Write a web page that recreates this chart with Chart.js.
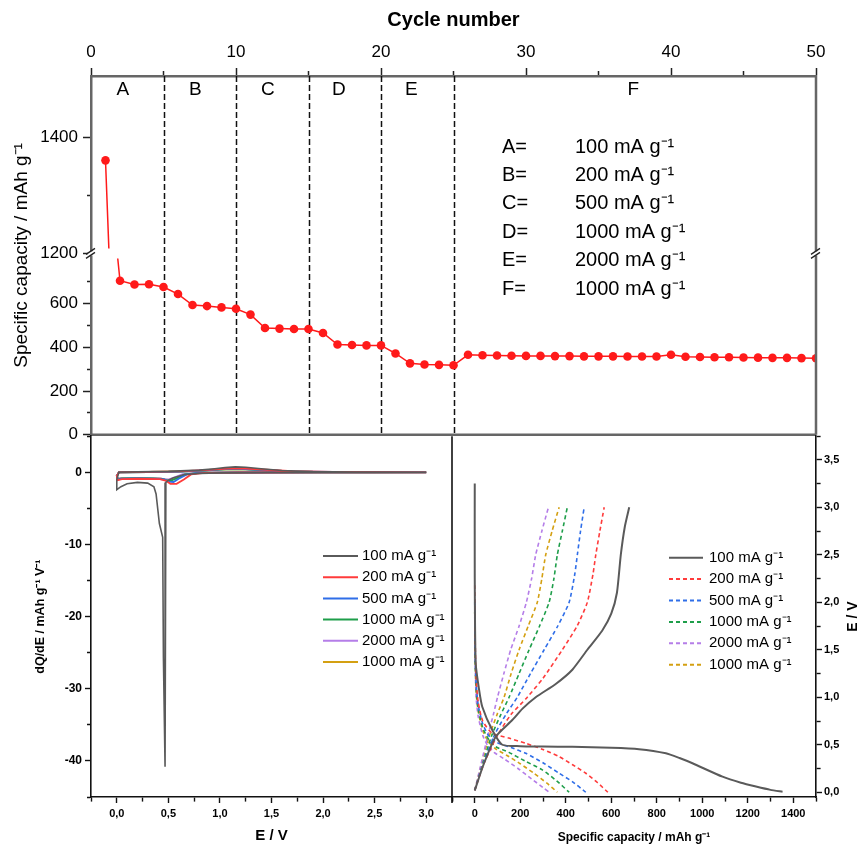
<!DOCTYPE html>
<html>
<head>
<meta charset="utf-8">
<title>Rate capability</title>
<script src="https://cdn.jsdelivr.net/npm/chart.js@4.4.1/dist/chart.umd.min.js"></script>
<style>
  body { margin: 0; background: #fff; }
  #wrap { position: relative; width: 860px; height: 845px; }
  canvas { position: absolute; }
</style>
</head>
<body>
<div id="wrap">
  <canvas id="capChart" width="860" height="450" style="left:0;top:0"></canvas>
  <canvas id="dqdeChart" width="462" height="419" style="left:0;top:426px"></canvas>
  <canvas id="profChart" width="418" height="419" style="left:442px;top:426px"></canvas>
</div>
<script>
// ---------- data ----------
const cycles = [1, 2, 3, 4, 5, 6, 7, 8, 9, 10, 11, 12, 13, 14, 15, 16, 17, 18, 19, 20, 21, 22, 23, 24, 25,
  26, 27, 28, 29, 30, 31, 32, 33, 34, 35, 36, 37, 38, 39, 40, 41, 42, 43, 44, 45, 46, 47, 48, 49, 50];
const capacity = [1360, 705, 688, 689, 676, 644, 594, 589, 583, 577, 550, 489, 486, 484, 484, 466, 413, 411, 409, 409,
  372, 327, 322, 320, 318, 366, 364, 363, 362, 361, 361, 360, 360, 359, 359, 359, 358, 358, 358, 366,
  357, 356, 355, 355, 354, 353, 352, 352, 351, 350];

const stageEnds = [5, 10, 15, 20, 25];
const stageNames = ['A', 'B', 'C', 'D', 'E', 'F'];
const stageCenters = [2.2, 7.2, 12.2, 17.1, 22.1, 37.4];
const stageRates = ['100 mA g⁻¹', '200 mA g⁻¹', '500 mA g⁻¹', '1000 mA g⁻¹', '2000 mA g⁻¹', '1000 mA g⁻¹'];

const lowTicks = [0, 100, 200, 300, 400, 500, 600, 700];
const highTicks = [1200, 1300, 1400];
const cycleTicks = [0, 5, 10, 15, 20, 25, 30, 35, 40, 45, 50];

const seriesLabels = ['100 mA g⁻¹', '200 mA g⁻¹', '500 mA g⁻¹', '1000 mA g⁻¹', '2000 mA g⁻¹', '1000 mA g⁻¹'];
const seriesColors = ['#5a5a5a', '#ff3b3b', '#2f6ee8', '#1e9e4a', '#b57ee8', '#d4a012'];

// dQ/dE vs E  ([E, dQ/dE])
const dqde100 = [[3.0, 0], [2.5, -0.01], [2.0, -0.02], [1.5, -0.04], [1.0, -0.08], [0.8, -0.15], [0.65, -0.35],
  [0.55, -0.75], [0.5, -1.1], [0.476, -1.4], [0.468, -40.8], [0.452, -25.6], [0.445, -9.0], [0.413, -7.1],
  [0.381, -3.0], [0.36, -2.0], [0.3, -1.5], [0.2, -1.4], [0.1, -1.6], [0.04, -2.0], [0.0, -2.4], [0.0, -1.0],
  [0.02, 0], [0.2, 0.05], [0.5, 0.12], [0.8, 0.3], [0.95, 0.5], [1.05, 0.65], [1.15, 0.75], [1.25, 0.7],
  [1.4, 0.5], [1.6, 0.25], [1.9, 0.1], [2.3, 0.04], [3.0, 0]];
const dqde200 = [[3.0, 0], [2.0, -0.01], [1.2, -0.03], [0.85, -0.08], [0.72, -0.3], [0.65, -1.0], [0.58, -1.6],
  [0.52, -1.6], [0.48, -1.2], [0.42, -0.95], [0.2, -0.9], [0.05, -0.95], [0.01, -1.1], [0.0, -0.5], [0.02, 0],
  [0.3, 0.05], [0.6, 0.12], [0.85, 0.3], [1.0, 0.45], [1.12, 0.55], [1.25, 0.5], [1.45, 0.35], [1.7, 0.15],
  [2.1, 0.05], [3.0, 0]];
const dqde500 = [[3.0, 0], [2.0, -0.01], [1.2, -0.03], [0.8, -0.08], [0.68, -0.3], [0.6, -0.9], [0.55, -1.35],
  [0.5, -1.3], [0.46, -1.0], [0.4, -0.9], [0.2, -0.85], [0.05, -0.9], [0.01, -1.0], [0.0, -0.5], [0.02, 0],
  [0.3, 0.04], [0.6, 0.1], [0.85, 0.25], [1.0, 0.4], [1.12, 0.5], [1.25, 0.45], [1.45, 0.3], [1.7, 0.12],
  [2.1, 0.04], [3.0, 0]];
const dqde1000 = [[3.0, 0], [2.0, -0.01], [1.2, -0.03], [0.8, -0.07], [0.66, -0.3], [0.58, -0.85], [0.52, -1.2],
  [0.48, -1.1], [0.44, -0.9], [0.35, -0.85], [0.2, -0.8], [0.05, -0.85], [0.01, -0.95], [0.0, -0.5], [0.02, 0],
  [0.3, 0.04], [0.6, 0.1], [0.85, 0.22], [1.0, 0.36], [1.12, 0.45], [1.25, 0.42], [1.45, 0.28], [1.7, 0.1],
  [2.1, 0.03], [3.0, 0]];
const dqde2000 = [[3.0, 0], [2.0, -0.01], [1.2, -0.03], [0.8, -0.06], [0.64, -0.25], [0.56, -0.7], [0.5, -1.0],
  [0.46, -0.95], [0.42, -0.85], [0.3, -0.8], [0.15, -0.78], [0.04, -0.8], [0.01, -0.9], [0.0, -0.5], [0.02, 0],
  [0.3, 0.04], [0.6, 0.1], [0.85, 0.25], [1.0, 0.4], [1.1, 0.5], [1.22, 0.45], [1.45, 0.28], [1.7, 0.1],
  [2.1, 0.03], [3.0, 0]];
const dqde1000b = [[3.0, 0], [2.0, -0.01], [1.2, -0.03], [0.8, -0.07], [0.65, -0.28], [0.57, -0.8], [0.51, -1.1],
  [0.47, -1.0], [0.43, -0.88], [0.3, -0.82], [0.15, -0.8], [0.04, -0.82], [0.01, -0.92], [0.0, -0.5], [0.02, 0],
  [0.3, 0.04], [0.6, 0.1], [0.85, 0.22], [1.0, 0.38], [1.12, 0.45], [1.25, 0.42], [1.45, 0.27], [1.7, 0.1],
  [2.1, 0.03], [3.0, 0]];

// discharge / charge profiles  ([capacity, E])
const dis100 = [[0, 3.25], [0, 2.3], [4, 1.36], [19, 1.08], [33, 0.9], [77, 0.655], [121, 0.5], [200, 0.485],
  [300, 0.482], [429, 0.478], [600, 0.468], [722, 0.453], [840, 0.41], [900, 0.36], [957, 0.305],
  [1089, 0.164], [1170, 0.1], [1236, 0.06], [1300, 0.025], [1353, 0.006]];
const chg100 = [[0, 0.02], [40, 0.3], [92, 0.585], [165, 0.76], [210, 0.88], [268, 1.0], [356, 1.14], [429, 1.29],
  [495, 1.5], [560, 1.7], [600, 1.88], [625, 2.1], [642, 2.5], [660, 2.8], [679, 3.0]];
const dis200 = [[0, 2.18], [2, 1.6], [6, 1.2], [15, 0.95], [35, 0.75], [77, 0.62], [150, 0.57], [224, 0.515],
  [300, 0.45], [371, 0.375], [430, 0.29], [488, 0.2], [540, 0.1], [585, 0.0]];
const chg200 = [[0, 0.02], [40, 0.3], [100, 0.6], [160, 0.82], [231, 1.0], [300, 1.2], [385, 1.5], [450, 1.75],
  [495, 2.0], [520, 2.3], [532, 2.5], [550, 2.75], [569, 3.0]];
const dis500 = [[0, 2.0], [2, 1.5], [6, 1.15], [15, 0.92], [35, 0.72], [60, 0.6], [92, 0.53], [160, 0.47],
  [224, 0.41], [300, 0.31], [371, 0.2], [430, 0.11], [488, 0.0]];
const chg500 = [[0, 0.02], [40, 0.32], [90, 0.62], [140, 0.83], [187, 1.0], [245, 1.25], [305, 1.5], [365, 1.75],
  [415, 2.0], [440, 2.3], [451, 2.5], [465, 2.75], [481, 3.0]];
const dis1000 = [[0, 1.9], [2, 1.4], [6, 1.1], [15, 0.88], [35, 0.68], [60, 0.56], [92, 0.48], [150, 0.42],
  [220, 0.33], [297, 0.235], [360, 0.12], [415, 0.0]];
const chg1000 = [[0, 0.02], [35, 0.3], [75, 0.6], [115, 0.82], [151, 1.0], [195, 1.25], [239, 1.5], [285, 1.75],
  [327, 2.0], [348, 2.25], [363, 2.5], [385, 2.75], [407, 3.0]];
const dis2000 = [[0, 1.85], [2, 1.35], [6, 1.0], [15, 0.8], [35, 0.6], [55, 0.5], [85, 0.42], [130, 0.35],
  [190, 0.25], [250, 0.14], [300, 0.05], [327, 0.0]];
const chg2000 = [[0, 0.02], [28, 0.3], [58, 0.6], [82, 0.82], [100, 1.0], [128, 1.25], [158, 1.5], [195, 1.75],
  [227, 2.0], [250, 2.25], [268, 2.5], [295, 2.75], [324, 3.0]];
const dis1000b = [[0, 1.9], [2, 1.4], [6, 1.05], [15, 0.85], [35, 0.65], [60, 0.53], [90, 0.46], [140, 0.39],
  [200, 0.3], [260, 0.2], [320, 0.09], [363, 0.0]];
const chg1000b = [[0, 0.02], [30, 0.3], [65, 0.6], [100, 0.83], [129, 1.0], [160, 1.25], [195, 1.5], [235, 1.75],
  [275, 2.0], [295, 2.25], [312, 2.5], [340, 2.75], [371, 3.0]];

// ---------- helpers ----------
const FONT = "'Liberation Sans', Arial, sans-serif";
Chart.defaults.font.family = FONT;
Chart.defaults.color = '#000';

const toXY = arr => arr.map(p => ({ x: p[0], y: p[1] }));
const withGap = (a, b) => toXY(a).concat([{ x: 0, y: null }], toXY(b));

// minor ticks drawn shorter by dashing the tick stroke
function tickDash(isMajor, tl, m, outerFirst) {
  return ctx => {
    if (!ctx.tick || isMajor(ctx.tick.value)) return [];
    return outerFirst ? [0, tl - m, m, 60] : [m, 60];
  };
}
const mult = step => v => Math.abs(v / step - Math.round(v / step)) < 1e-6;

// ---------- top chart: capacity vs cycle (broken axis) ----------
const capPts = cycles.map((c, i) => ({ x: c, y: capacity[i] }));

const capDecor = {
  id: 'capDecor',
  beforeDatasetsDraw(chart) {
    const { ctx, chartArea: a, scales } = chart;
    ctx.save();
    ctx.strokeStyle = '#111';
    ctx.lineWidth = 1.5;
    ctx.setLineDash([6, 3]);
    stageEnds.forEach(c => {
      const x = Math.round(scales.x.getPixelForValue(c)) + 0.5;
      ctx.beginPath();
      ctx.moveTo(x, a.top);
      ctx.lineTo(x, a.bottom);
      ctx.stroke();
    });
    ctx.restore();
  },
  afterDraw(chart) {
    const { ctx, chartArea: a, scales } = chart;
    ctx.save();
    // right and bottom frame
    ctx.strokeStyle = '#666';
    ctx.lineWidth = 2.5;
    ctx.beginPath();
    ctx.moveTo(a.left, a.bottom);
    ctx.lineTo(a.right, a.bottom);
    ctx.moveTo(a.right, a.top - 1);
    ctx.lineTo(a.right, a.bottom);
    ctx.stroke();
    // axis break marks
    const yb = scales.yHigh.bottom;
    [a.left, a.right].forEach(x => {
      ctx.fillStyle = '#fff';
      ctx.fillRect(x - 3, yb - 2, 6, 4);
      ctx.strokeStyle = '#222';
      ctx.lineWidth = 1.3;
      ctx.beginPath();
      ctx.moveTo(x - 5, yb + 1); ctx.lineTo(x + 4, yb - 5);
      ctx.moveTo(x - 5, yb + 5); ctx.lineTo(x + 4, yb - 1);
      ctx.stroke();
    });
    // stage letters
    ctx.fillStyle = '#000';
    ctx.font = '19px ' + FONT;
    ctx.textAlign = 'center';
    ctx.textBaseline = 'middle';
    stageNames.forEach((s, i) => ctx.fillText(s, scales.x.getPixelForValue(stageCenters[i]), 90));
    // current density table
    ctx.textAlign = 'left';
    ctx.font = '20px ' + FONT;
    stageNames.forEach((s, i) => {
      const y = 147 + i * 28.4;
      ctx.fillText(s + '=', 502, y);
      ctx.fillText(stageRates[i], 575, y);
    });
    // y title
    ctx.font = '19px ' + FONT;
    ctx.translate(22, (a.top + a.bottom) / 2);
    ctx.rotate(-Math.PI / 2);
    ctx.textAlign = 'center';
    ctx.fillText('Specific capacity / mAh g⁻¹', 0, 0);
    ctx.restore();
  }
};

const tickFontTop = { size: 17, family: FONT };
const capSet = {
  borderColor: '#ff1a1a', backgroundColor: '#ff1a1a', borderWidth: 1.5,
  pointRadius: 4.3, pointBorderWidth: 0, pointHoverRadius: 4.3
};

new Chart(document.getElementById('capChart'), {
  type: 'line',
  data: {
    datasets: [
      Object.assign({ data: capPts, xAxisID: 'x', yAxisID: 'yLow', clip: { left: 8, right: 1, top: -5, bottom: 8 } }, capSet),
      Object.assign({ data: capPts, xAxisID: 'x', yAxisID: 'yHigh', clip: { left: 8, right: 1, top: 8, bottom: -5 } }, capSet)
    ]
  },
  options: {
    responsive: false,
    animation: false,
    devicePixelRatio: 1,
    layout: { padding: { left: 0, top: 0, right: 44, bottom: 14 } },
    plugins: { legend: { display: false }, tooltip: { enabled: false } },
    scales: {
      x: {
        type: 'linear', position: 'top', min: 0, max: 50,
        afterBuildTicks: s => { s.ticks = cycleTicks.map(v => ({ value: v })); },
        afterFit: s => { s.height = 76; },
        ticks: { callback: v => (v % 10 === 0 ? v : ''), font: tickFontTop, padding: 5, maxRotation: 0, autoSkip: false },
        grid: { drawOnChartArea: false, tickLength: 8, tickWidth: 1.5, tickColor: '#222',
                tickBorderDash: tickDash(mult(10), 8, 5, true) },
        border: { color: '#666', width: 2.5 },
        title: { display: true, text: 'Cycle number', font: { size: 20, weight: 'bold', family: FONT }, padding: { top: 8, bottom: 0 } }
      },
      yLow: {
        type: 'linear', position: 'left', stack: 'cap', stackWeight: 182, min: 0, max: 830,
        afterBuildTicks: s => { s.ticks = lowTicks.map(v => ({ value: v })); },
        afterFit: s => { s.width = 91; },
        ticks: { callback: v => (v % 200 === 0 ? v : ''), font: tickFontTop, padding: 5, autoSkip: false },
        grid: { drawOnChartArea: false, tickLength: 8, tickWidth: 1.5, tickColor: '#222',
                tickBorderDash: tickDash(mult(200), 8, 4, true) },
        border: { color: '#666', width: 2.5 }
      },
      yHigh: {
        type: 'linear', position: 'left', stack: 'cap', stackWeight: 178, min: 1200, max: 1505,
        afterBuildTicks: s => { s.ticks = highTicks.map(v => ({ value: v })); },
        afterFit: s => { s.width = 91; },
        ticks: { callback: v => (v % 200 === 0 ? v : ''), font: tickFontTop, padding: 5, autoSkip: false },
        grid: { drawOnChartArea: false, tickLength: 8, tickWidth: 1.5, tickColor: '#222',
                tickBorderDash: tickDash(mult(200), 8, 4, true) },
        border: { color: '#666', width: 2.5 }
      }
    }
  },
  plugins: [capDecor]
});

// ---------- shared legend for the lower panels ----------
const miniLegend = {
  id: 'miniLegend',
  afterDraw(chart, args, opts) {
    const ctx = chart.ctx;
    ctx.save();
    ctx.font = opts.font;
    ctx.textBaseline = 'middle';
    ctx.textAlign = 'left';
    chart.data.datasets.forEach((ds, i) => {
      const y = opts.y + i * opts.dy;
      ctx.strokeStyle = ds.borderColor;
      ctx.lineWidth = 2;
      ctx.setLineDash(ds.borderDash || []);
      ctx.beginPath();
      ctx.moveTo(opts.x0, y);
      ctx.lineTo(opts.x1, y);
      ctx.stroke();
      ctx.setLineDash([]);
      ctx.fillStyle = '#000';
      ctx.fillText(ds.label, opts.tx, y);
    });
    ctx.restore();
  }
};

const smallTick = { size: 11, weight: 'bold', family: FONT };
const axisLine = { color: '#111', width: 1.6 };

// ---------- bottom left: dQ/dE ----------
const dqdeSets = [dqde100, dqde200, dqde500, dqde1000, dqde2000, dqde1000b];
const dividerPlugin = {
  id: 'divider',
  afterDraw(chart) {
    const { ctx, chartArea: a } = chart;
    ctx.save();
    ctx.strokeStyle = '#111';
    ctx.lineWidth = 1.6;
    ctx.beginPath();
    ctx.moveTo(a.right, a.top);
    ctx.lineTo(a.right, a.bottom + 6);
    ctx.stroke();
    ctx.restore();
  }
};

new Chart(document.getElementById('dqdeChart'), {
  type: 'line',
  data: {
    datasets: dqdeSets.map((d, i) => ({
      label: seriesLabels[i], data: toXY(d), borderColor: seriesColors[i],
      borderWidth: i === 0 ? 1.6 : 1.8, pointRadius: 0, tension: 0
    }))
  },
  options: {
    responsive: false,
    animation: false,
    devicePixelRatio: 1,
    layout: { padding: { left: 0, top: 10, right: 10, bottom: 0 } },
    plugins: {
      legend: { display: false }, tooltip: { enabled: false },
      miniLegend: { x0: 323, x1: 358, tx: 362, y: 130, dy: 21.2, font: '15px ' + FONT }
    },
    scales: {
      x: {
        type: 'linear', min: -0.25, max: 3.25,
        afterBuildTicks: s => { s.ticks = [-0.25, 0, 0.25, 0.5, 0.75, 1, 1.25, 1.5, 1.75, 2, 2.25, 2.5, 2.75, 3, 3.25].map(v => ({ value: v })); },
        afterFit: s => { s.height = 48; },
        ticks: { callback: v => (mult(0.5)(v) && v >= 0 ? v.toFixed(1).replace('.', ',') : ''), font: smallTick, padding: 4, maxRotation: 0, autoSkip: false },
        grid: { drawOnChartArea: false, tickLength: 6, tickWidth: 1.4, tickColor: '#111',
                tickBorderDash: tickDash(mult(0.5), 6, 4, false) },
        border: axisLine,
        title: { display: true, text: 'E / V', font: { size: 15, weight: 'bold', family: FONT }, padding: { top: 0, bottom: 0 } }
      },
      y: {
        type: 'linear', min: -45, max: 5,
        afterBuildTicks: s => { s.ticks = [-45, -40, -35, -30, -25, -20, -15, -10, -5, 0, 5].map(v => ({ value: v })); },
        afterFit: s => { s.width = 91; },
        ticks: { callback: v => (v % 10 === 0 ? v : ''), font: { size: 12, weight: 'bold', family: FONT }, padding: 3, autoSkip: false },
        grid: { drawOnChartArea: false, tickLength: 6, tickWidth: 1.4, tickColor: '#111',
                tickBorderDash: tickDash(mult(10), 6, 4, true) },
        border: axisLine,
        title: { display: true, text: 'dQ/dE / mAh g⁻¹ V⁻¹', font: { size: 12.5, weight: 'bold', family: FONT }, padding: { top: 33, bottom: 0 } }
      }
    }
  },
  plugins: [miniLegend, dividerPlugin]
});

// ---------- bottom right: potential profiles ----------
const profDis = [dis100, dis200, dis500, dis1000, dis2000, dis1000b];
const profChg = [chg100, chg200, chg500, chg1000, chg2000, chg1000b];

const profTitle = {
  id: 'profTitle',
  afterDraw(chart) {
    const { ctx, chartArea: a } = chart;
    ctx.save();
    ctx.fillStyle = '#000';
    ctx.font = 'bold 14px ' + FONT;
    ctx.textAlign = 'center';
    ctx.textBaseline = 'middle';
    ctx.translate(411, (a.top + a.bottom) / 2);
    ctx.rotate(-Math.PI / 2);
    ctx.fillText('E / V', 0, 0);
    ctx.restore();
  }
};

new Chart(document.getElementById('profChart'), {
  type: 'line',
  data: {
    datasets: profDis.map((d, i) => ({
      label: seriesLabels[i], data: withGap(d, profChg[i]), borderColor: seriesColors[i],
      borderWidth: i === 0 ? 2 : 1.6, borderDash: i === 0 ? [] : [4, 3],
      pointRadius: 0, tension: 0.2, spanGaps: false
    }))
  },
  options: {
    responsive: false,
    animation: false,
    devicePixelRatio: 1,
    layout: { padding: { left: 10, top: 10, right: 0, bottom: 0 } },
    plugins: {
      legend: { display: false }, tooltip: { enabled: false },
      miniLegend: { x0: 227, x1: 261, tx: 267, y: 131.7, dy: 21.4, font: '15px ' + FONT }
    },
    scales: {
      x: {
        type: 'linear', min: -100, max: 1500,
        afterBuildTicks: s => { s.ticks = [-100, 0, 100, 200, 300, 400, 500, 600, 700, 800, 900, 1000, 1100, 1200, 1300, 1400, 1500].map(v => ({ value: v })); },
        afterFit: s => { s.height = 48; },
        ticks: { callback: v => (v % 200 === 0 && v >= 0 && v <= 1400 ? v : ''), font: smallTick, padding: 4, maxRotation: 0, autoSkip: false },
        grid: { drawOnChartArea: false, tickLength: 6, tickWidth: 1.4, tickColor: '#111',
                tickBorderDash: tickDash(mult(200), 6, 4, false) },
        border: axisLine,
        title: { display: true, text: 'Specific capacity / mAh g⁻¹', font: { size: 12, weight: 'bold', family: FONT }, padding: { top: 0, bottom: 0 } }
      },
      y: {
        type: 'linear', position: 'right', min: -0.05, max: 3.75,
        afterBuildTicks: s => { s.ticks = [0, 0.25, 0.5, 0.75, 1, 1.25, 1.5, 1.75, 2, 2.25, 2.5, 2.75, 3, 3.25, 3.5, 3.75].map(v => ({ value: v })); },
        afterFit: s => { s.width = 44; },
        ticks: { callback: v => (mult(0.5)(v) ? v.toFixed(1).replace('.', ',') : ''), font: smallTick, padding: 2, autoSkip: false },
        grid: { drawOnChartArea: false, tickLength: 6, tickWidth: 1.4, tickColor: '#111',
                tickBorderDash: tickDash(mult(0.5), 6, 4, false) },
        border: axisLine
      }
    }
  },
  plugins: [miniLegend, profTitle]
});
</script>
</body>
</html>
